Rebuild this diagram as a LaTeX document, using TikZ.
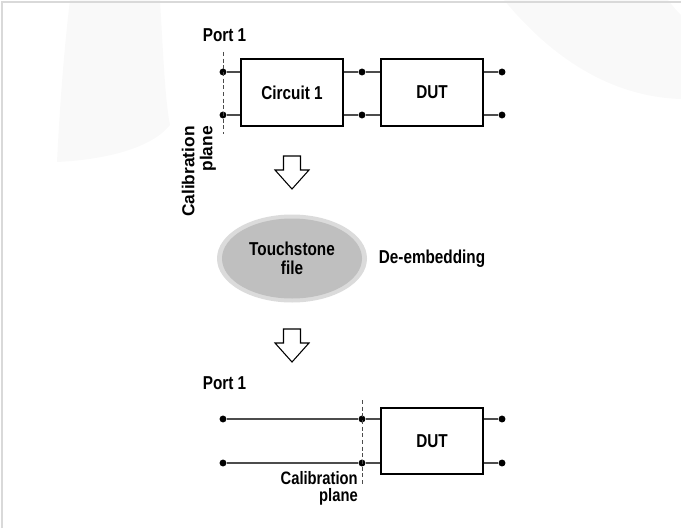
\documentclass[tikz,border=0pt]{standalone}
\usepackage{fontspec}
\setmainfont{Liberation Sans}[FakeStretch=0.82]
\newfontfamily\widefont{Liberation Sans}
\usetikzlibrary{shapes.geometric}

\tikzset{
  blockbox/.style={draw, rectangle, line width=1.5pt, minimum width=76.5pt, minimum height=49.5pt,
    font=\bfseries\fontsize{14}{16}\selectfont},
  portdot/.style={circle, fill=black, inner sep=0pt, minimum size=5.2pt},
  wire/.style={draw=black!70, line width=0.9pt},
  calline/.style={draw=black!70, line width=0.6pt, dash pattern=on 3pt off 2pt},
  lbl/.style={font=\bfseries\fontsize{14}{16}\selectfont, inner sep=0pt},
  hollowarrow/.style={draw, line width=0.8pt, fill=white},
  watermark/.style={fill=black!2.5, draw=none}
}

\begin{document}
\begin{tikzpicture}[x=0.75pt, y=-0.75pt]
\useasboundingbox (0,0) rectangle (681,528);

% faint logo in the background
\fill[watermark] (70,0) -- (160,0) .. controls (163,50) and (165,100) .. (170,125)
  .. controls (150,150) and (100,160) .. (57,162) .. controls (60,100) and (65,40) .. (70,0) -- cycle;
\fill[watermark] (504,0) .. controls (555,62) and (615,97) .. (681,99) -- (681,15)
  .. controls (676,10) and (671,4) .. (668,0) -- cycle;
\draw[black!15, line width=1.5pt] (2,528) -- (2,2) -- (681,2);

% measurement with Circuit 1
\node[lbl] (port1) at (224.5,35) {Port 1};
\node[blockbox] (circ) at (292,92.5) {Circuit 1};
\node[blockbox] (dut1) at (432,92.5) {DUT};

\node[portdot] (p1a) at (223,72) {};
\node[portdot] (p1b) at (223,115) {};
\node[portdot] (m1a) at (362,72) {};
\node[portdot] (m1b) at (362,115) {};
\node[portdot] (o1a) at (502,72) {};
\node[portdot] (o1b) at (502,115) {};

\draw[wire] (p1a) -- (p1a -| circ.west);
\draw[wire] (p1b) -- (p1b -| circ.west);
\draw[wire] (circ.east |- m1a) -- (m1a) -- (dut1.west |- m1a);
\draw[wire] (circ.east |- m1b) -- (m1b) -- (dut1.west |- m1b);
\draw[wire] (dut1.east |- o1a) -- (o1a);
\draw[wire] (dut1.east |- o1b) -- (o1b);

\coordinate (cal1top) at (223,52);
\coordinate (cal1bot) at (223,134);
\draw[calline] (cal1top) -- (cal1bot);
\node[lbl, font=\widefont\bfseries\fontsize{13}{13.5}\selectfont, rotate=90, align=right, anchor=east]
  (cal1) at (199,126) {Calibration\\plane};

% de-embedding step
\coordinate (arr1) at (292,156);
\draw[hollowarrow] (arr1) ++(-8.5,0) -- ++(0,14) -- ++(-8.5,0) -- ++(17,19) -- ++(17,-19)
  -- ++(-8.5,0) -- ++(0,-14) -- cycle;

\node[ellipse, fill=black!14, minimum width=112.5pt, minimum height=66pt] (tsring) at (292,258.5) {};
\node[ellipse, fill=black!25, minimum width=105pt, minimum height=60pt, inner sep=0pt, align=center,
  font=\bfseries\fontsize{14}{14.25}\selectfont] (ts) at (292,258.5) {Touchstone\\file};
\node[lbl] (deemb) at (432,259) {De-embedding};

\coordinate (arr2) at (292,329);
\draw[hollowarrow] (arr2) ++(-8.5,0) -- ++(0,14) -- ++(-8.5,0) -- ++(17,19) -- ++(17,-19)
  -- ++(-8.5,0) -- ++(0,-14) -- cycle;

% result: DUT alone
\node[lbl] (port2) at (224.5,383.5) {Port 1};
\node[blockbox] (dut2) at (432,441) {DUT};

\node[portdot] (p2a) at (223,419) {};
\node[portdot] (p2b) at (223,463) {};
\node[portdot] (m2a) at (362,419) {};
\node[portdot] (m2b) at (362,463) {};
\node[portdot] (o2a) at (502,419) {};
\node[portdot] (o2b) at (502,463) {};

\draw[wire] (p2a) -- (m2a) -- (dut2.west |- m2a);
\draw[wire] (p2b) -- (m2b) -- (dut2.west |- m2b);
\draw[wire] (dut2.east |- o2a) -- (o2a);
\draw[wire] (dut2.east |- o2b) -- (o2b);

\coordinate (cal2top) at (362,400);
\coordinate (cal2bot) at (362,486);
\draw[calline] (cal2top) -- (cal2bot);
\node[lbl, align=right, anchor=north east, font=\bfseries\fontsize{13.5}{13}\selectfont]
  (cal2) at (358,471) {Calibration\\plane};
\end{tikzpicture}
\end{document}
